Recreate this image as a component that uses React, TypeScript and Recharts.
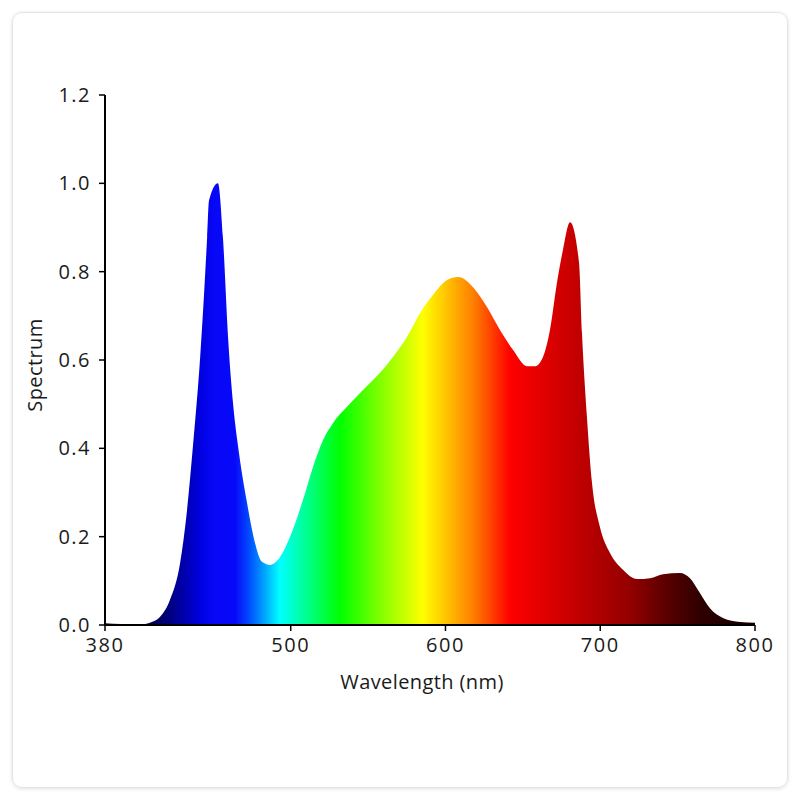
import { AreaChart, Area, XAxis, YAxis, Label } from 'recharts';

const wavelengths = [
  380, 390, 403, 409, 415.5, 422, 428.5, 433, 437, 441.5,
  446, 447.2, 453, 456.2, 459.5, 462.7, 466.6, 471.8, 476.9, 481.4,
  486.6, 493.1, 499.5, 507.9, 514.4, 520.9, 527.3, 536.4, 546.7, 557.7,
  566.1, 575.1, 583.5, 591.9, 601, 608.1, 617.8, 626.8, 635.2, 643.6,
  652.7, 657.8, 663, 667.5, 672, 675.9, 680.5, 686.3, 688.2, 691.4,
  694.7, 699.8, 706.3, 714.7, 723.8, 732.2, 740.6, 751.5, 758, 764.5,
  770.9, 779.3, 790.3, 800,
];

const spectrum = [
  0.004, 0.002, 0.001, 0.005, 0.018, 0.057, 0.14, 0.26, 0.412, 0.607,
  0.878, 0.961, 1.0, 0.878, 0.652, 0.503, 0.389, 0.276, 0.186, 0.143,
  0.136, 0.154, 0.199, 0.283, 0.358, 0.419, 0.457, 0.494, 0.532, 0.571,
  0.607, 0.652, 0.706, 0.747, 0.781, 0.788, 0.765, 0.72, 0.668, 0.623,
  0.586, 0.586, 0.607, 0.668, 0.774, 0.849, 0.912, 0.82, 0.661, 0.471,
  0.321, 0.222, 0.163, 0.125, 0.104, 0.106, 0.115, 0.118, 0.106, 0.072,
  0.038, 0.016, 0.007, 0.005,
];

const xTicks = [380, 500, 600, 700, 800];
const yTicks = [0, 0.2, 0.4, 0.6, 0.8, 1.0, 1.2];

// colour stops across the visible range (offset, colour)
const stopOffsets = [0, 0.07, 0.1, 0.146, 0.17, 0.2, 0.223, 0.269, 0.3, 0.362, 0.423, 0.489, 0.546, 0.566, 0.623, 0.731, 0.812, 0.874, 0.915, 1];
const stopColors = ['#000040', '#000050', '#000080', '#0000e0', '#0808f8', '#0808f8', '#0050ff', '#00ffff', '#00ffaa', '#00ff00', '#80ff00', '#ffff00', '#ffa000', '#ff8000', '#ff0000', '#c00000', '#900000', '#500000', '#300000', '#100000'];

const data = wavelengths.map((w, i) => ({ nm: w, value: spectrum[i] }));

const font = '"Open Sans", "Noto Sans", sans-serif';
const tickStyle = { fontSize: 20, fill: '#1a1a1a', fontFamily: font, letterSpacing: 1.5 };
const labelStyle = { fontSize: 20, fill: '#1a1a1a', fontFamily: font, letterSpacing: 0.4 };

export default function App() {
  return (
    <div style={{ position: 'absolute', left: 0, top: 0, width: 800, height: 800, background: '#fff' }}>
      <div
        style={{
          position: 'absolute', left: 12, top: 12, width: 776, height: 776, boxSizing: 'border-box',
          border: '1px solid #e4e4e4', borderRadius: 10, boxShadow: '0 1px 4px rgba(0,0,0,0.12)',
        }}
      />
      <div style={{ position: 'absolute', left: 0, top: 0 }}>
        <AreaChart width={800} height={800} data={data} margin={{ top: 95, right: 45, left: 25, bottom: 105 }}>
          <defs>
            <linearGradient id="spec" x1="0" y1="0" x2="1" y2="0">
              {stopOffsets.map((o, i) => (
                <stop key={i} offset={o} stopColor={stopColors[i]} />
              ))}
            </linearGradient>
          </defs>
          <XAxis
            dataKey="nm" type="number" domain={[380, 800]} ticks={xTicks} allowDataOverflow
            height={70} tick={tickStyle} tickSize={6} tickMargin={7}
            axisLine={{ stroke: '#000', strokeWidth: 2 }} tickLine={{ stroke: '#000', strokeWidth: 1.5 }}
          >
            <Label value="Wavelength (nm)" position="insideBottom" offset={6} dx={-8} style={labelStyle} />
          </XAxis>
          <YAxis
            type="number" domain={[0, 1.2]} ticks={yTicks} width={80} tickFormatter={(v: number) => v.toFixed(1)}
            tick={tickStyle} tickSize={6} tickMargin={8}
            axisLine={{ stroke: '#000', strokeWidth: 2 }} tickLine={{ stroke: '#000', strokeWidth: 1.5 }}
          >
            <Label value="Spectrum" angle={-90} position="insideLeft" offset={10} dy={5} style={{ ...labelStyle, textAnchor: 'middle' }} />
          </YAxis>
          <Area type="monotone" dataKey="value" stroke="none" fill="url(#spec)" fillOpacity={1} isAnimationActive={false} />
        </AreaChart>
      </div>
    </div>
  );
}
